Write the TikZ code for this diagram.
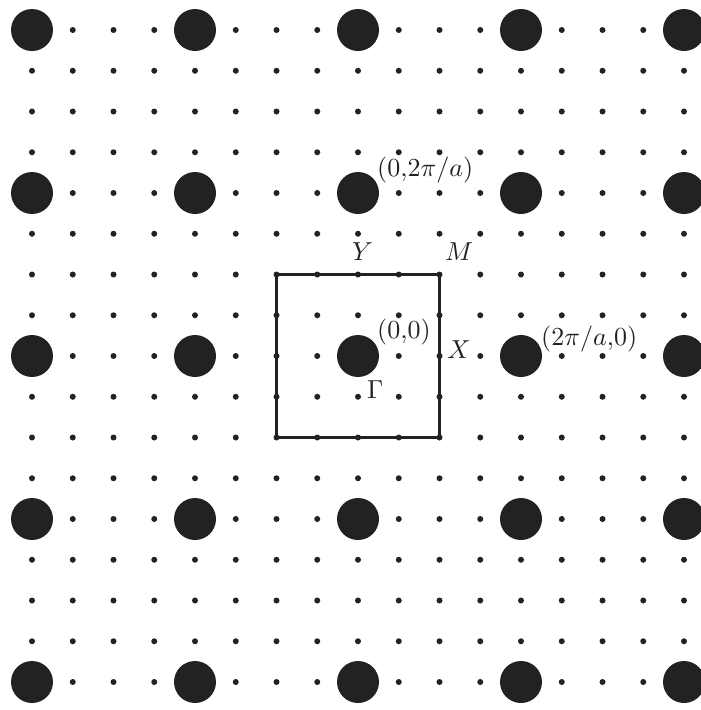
\documentclass[tikz,border=0pt]{standalone}
\usepackage{graphicx}
\definecolor{ink}{HTML}{222222}
\newcommand{\bigtxt}[1]{\scalebox{2.6}{#1}}
\tikzset{
  lbl/.style={inner sep=0pt, anchor=west, text=ink},
  smalldot/.style={fill=ink},
  bigdot/.style={fill=ink},
  zone/.style={draw=ink, line width=2.3pt, minimum size=163pt, inner sep=0pt}
}
\begin{document}
\begin{tikzpicture}[x=1pt,y=-1pt]
\useasboundingbox (0,0) rectangle (701,710);
\fill[white] (0,0) rectangle (701,710);
% fine lattice of small dots
\foreach \i in {0,...,16}{
  \foreach \j in {0,...,16}{
    \fill[smalldot] (32+\i*40.75, 30+\j*40.75) circle (3pt);
  }
}
% Brillouin zone
\node[zone] (bz) at (358,356) {};
% reciprocal lattice points
\foreach \i in {0,...,4}{
  \foreach \j in {0,...,4}{
    \fill[bigdot] (32+\i*163, 30+\j*163) circle (21pt);
  }
}
% labels
\node[lbl] (l02) at (377,169.5) {\bigtxt{$(0{,}2\pi/a)$}};
\node[lbl] (l00) at (377,332) {\bigtxt{$(0{,}0)$}};
\node[lbl] (l20) at (541,339) {\bigtxt{$(2\pi/a{,}0)$}};
\node[lbl] (lX) at (447,350) {\bigtxt{$X$}};
\node[lbl] (lY) at (352,252) {\bigtxt{$Y$}};
\node[lbl] (lM) at (445,252) {\bigtxt{$M$}};
\node[lbl] (lG) at (367,390) {\bigtxt{$\Gamma$}};
\end{tikzpicture}
\end{document}
